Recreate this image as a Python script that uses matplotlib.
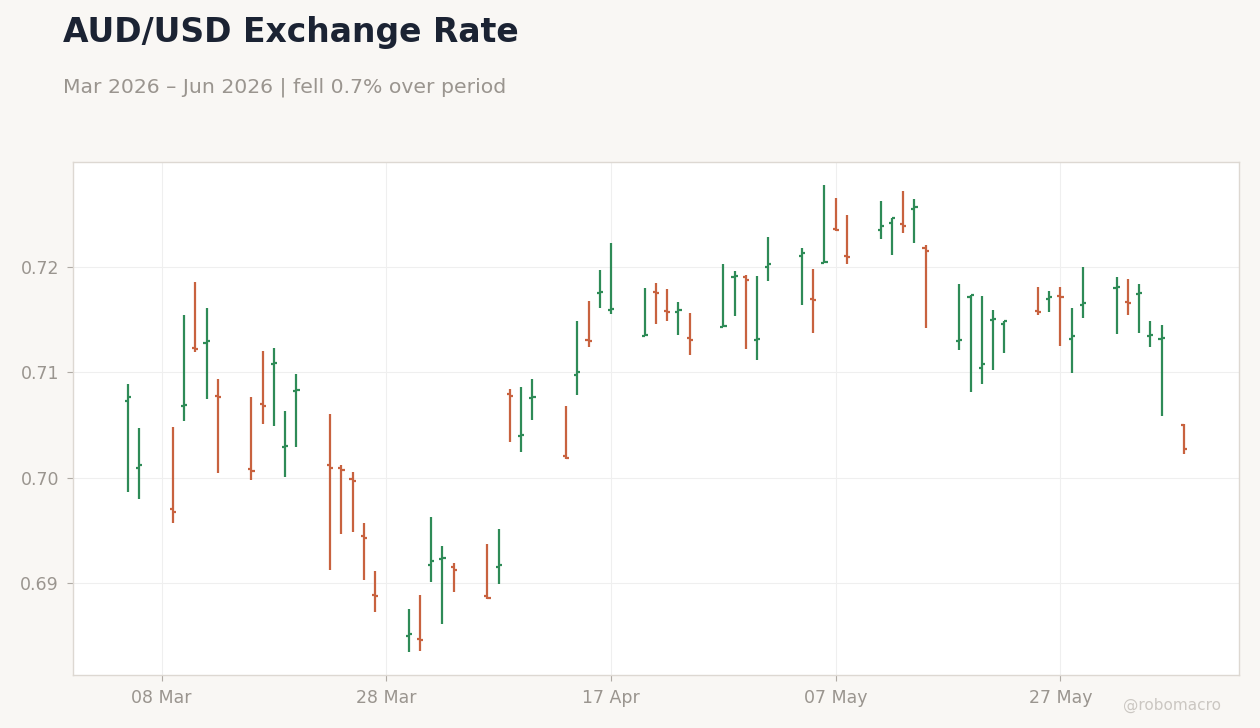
import numpy as np
import pandas as pd
import matplotlib
matplotlib.use("Agg")
import matplotlib.pyplot as plt
import matplotlib.dates as mdates

# ---- data ----
dates = list(pd.bdate_range("2026-03-05", "2026-06-05")) + [pd.Timestamp("2026-06-07")]

opens = [0.7073, 0.7009, 0.6970, 0.7068, 0.7123, 0.7128, 0.7077, 0.7008, 0.7070, 0.7108,
         0.7029, 0.7082, 0.7012, 0.7009, 0.6999, 0.6945, 0.6889, 0.6850, 0.6847, 0.6917,
         0.6923, 0.6915, 0.6888, 0.6915, 0.7079, 0.7039, 0.7075, 0.7020, 0.7097, 0.7130,
         0.7175, 0.7159, 0.7134, 0.7176, 0.7158, 0.7157, 0.7132, 0.7143, 0.7190, 0.7190,
         0.7130, 0.7200, 0.7210, 0.7169, 0.7203, 0.7236, 0.7210, 0.7235, 0.7241, 0.7240,
         0.7255, 0.7218, 0.7129, 0.7171, 0.7104, 0.7149, 0.7146, 0.7158, 0.7169, 0.7172,
         0.7131, 0.7164, 0.7180, 0.7166, 0.7174, 0.7134, 0.7131, 0.7050]
highs = [0.7089, 0.7047, 0.7048, 0.7154, 0.7185, 0.7161, 0.7093, 0.7076, 0.7120, 0.7123,
         0.7063, 0.7098, 0.7060, 0.7012, 0.7005, 0.6957, 0.6911, 0.6875, 0.6889, 0.6963,
         0.6935, 0.6919, 0.6937, 0.6951, 0.7084, 0.7086, 0.7093, 0.7068, 0.7148, 0.7167,
         0.7197, 0.7222, 0.7180, 0.7184, 0.7179, 0.7166, 0.7156, 0.7202, 0.7196, 0.7192,
         0.7191, 0.7228, 0.7218, 0.7198, 0.7277, 0.7265, 0.7249, 0.7262, 0.7246, 0.7272,
         0.7264, 0.7220, 0.7183, 0.7173, 0.7172, 0.7159, 0.7148, 0.7181, 0.7177, 0.7181,
         0.7161, 0.7200, 0.7190, 0.7188, 0.7183, 0.7148, 0.7145, 0.7051]
lows = [0.6986, 0.6980, 0.6957, 0.7054, 0.7119, 0.7074, 0.7004, 0.6998, 0.7051, 0.7049,
        0.7001, 0.7029, 0.6912, 0.6947, 0.6948, 0.6903, 0.6873, 0.6835, 0.6836, 0.6901,
        0.6861, 0.6892, 0.6885, 0.6899, 0.7034, 0.7024, 0.7055, 0.7018, 0.7078, 0.7124,
        0.7161, 0.7155, 0.7134, 0.7146, 0.7148, 0.7135, 0.7116, 0.7143, 0.7153, 0.7122,
        0.7111, 0.7186, 0.7164, 0.7137, 0.7203, 0.7234, 0.7202, 0.7226, 0.7211, 0.7232,
        0.7222, 0.7142, 0.7121, 0.7081, 0.7089, 0.7102, 0.7118, 0.7154, 0.7157, 0.7125,
        0.7099, 0.7151, 0.7136, 0.7154, 0.7137, 0.7124, 0.7058, 0.7022]
closes = [0.7076, 0.7012, 0.6967, 0.7069, 0.7122, 0.7129, 0.7076, 0.7006, 0.7068, 0.7109,
          0.7030, 0.7083, 0.7009, 0.7007, 0.6997, 0.6943, 0.6888, 0.6852, 0.6846, 0.6921,
          0.6924, 0.6912, 0.6886, 0.6917, 0.7077, 0.7040, 0.7076, 0.7019, 0.7100, 0.7129,
          0.7176, 0.7160, 0.7135, 0.7175, 0.7157, 0.7159, 0.7130, 0.7144, 0.7191, 0.7187,
          0.7131, 0.7202, 0.7213, 0.7168, 0.7204, 0.7235, 0.7209, 0.7238, 0.7246, 0.7238,
          0.7256, 0.7215, 0.7130, 0.7173, 0.7108, 0.7150, 0.7148, 0.7157, 0.7171, 0.7171,
          0.7134, 0.7165, 0.7181, 0.7165, 0.7175, 0.7135, 0.7132, 0.7027]

tick_dates = ["2026-03-08", "2026-03-28", "2026-04-17", "2026-05-07", "2026-05-27"]
y_ticks = [0.69, 0.70, 0.71, 0.72]

UP, DOWN = "#2e8b57", "#c8623f"
BG, GRID, SPINE, LABEL = "#f9f7f4", "#efefef", "#ddd8d2", "#9a958f"

plt.rcParams["font.family"] = ["DejaVu Sans"]

x = mdates.date2num(dates)
o = np.array(opens); h = np.array(highs); l = np.array(lows); c = np.array(closes)
cols = [UP if cc >= oo else DOWN for oo, cc in zip(o, c)]

fig = plt.figure(figsize=(12.6, 7.28), dpi=100, facecolor=BG)
ax = fig.add_axes([0.0579, 0.0728, 0.9254, 0.7047])
ax.set_facecolor("white")

w = 0.28  # tick half-width in days
ax.vlines(x, l, h, colors=cols, lw=1.6, zorder=3)
ax.hlines(o, x - w, x, colors=cols, lw=1.6, zorder=3)
ax.hlines(c, x, x + w, colors=cols, lw=1.6, zorder=3)

pad = 0.052 * (x[-1] - x[0])
ax.set_xlim(x[0] - pad, x[-1] + pad)
ax.margins(y=0.05)
ax.set_xticks(mdates.date2num(pd.to_datetime(tick_dates)))
ax.xaxis.set_major_formatter(mdates.DateFormatter("%d %b"))
ax.set_yticks(y_ticks)
ax.yaxis.set_major_formatter(matplotlib.ticker.FormatStrFormatter("%.2f"))

ax.grid(True, color=GRID, lw=0.8, zorder=0)
ax.set_axisbelow(True)
for s in ax.spines.values():
    s.set_color(SPINE)
    s.set_linewidth(1.0)
ax.tick_params(colors="#b0aba5", labelcolor=LABEL, labelsize=12.5, length=4, width=0.8, pad=6)

fig.text(0.05, 0.942, "AUD/USD Exchange Rate", fontsize=23.8, fontweight="bold",
         color="#1b2333", va="baseline", ha="left")
fig.text(0.05, 0.873, "Mar 2026 \u2013 Jun 2026 | fell 0.7% over period", fontsize=14.7,
         color="#9a958f", va="baseline", ha="left")
fig.text(0.969, 0.025, "@robomacro", fontsize=11, color="#cbc7c2", ha="right", va="baseline")

fig.savefig("out.png", dpi=100, facecolor=BG)
